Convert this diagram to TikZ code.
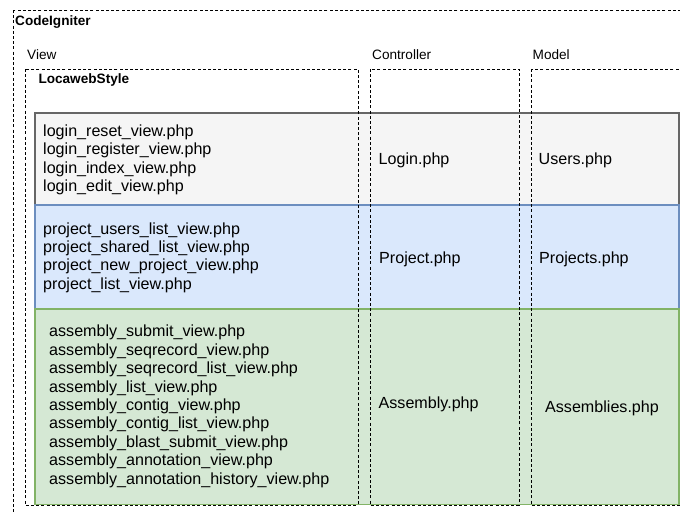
\documentclass[tikz,border=0pt]{standalone}
\usepackage{fontspec}
\setmainfont{Liberation Sans}
\definecolor{greyfill}{HTML}{F5F5F5}
\definecolor{greyline}{HTML}{666666}
\definecolor{bluefill}{HTML}{DAE8FC}
\definecolor{blueline}{HTML}{6C8EBF}
\definecolor{greenfill}{HTML}{D5E8D4}
\definecolor{greenline}{HTML}{82B366}
\tikzset{
  frame/.style={draw=black, line width=0.9pt, dash pattern=on 3pt off 2.2pt},
  band/.style={line width=1.4pt},
  lbl/.style={inner sep=0pt, anchor=base west, font=\fontsize{13.6}{16}\selectfont},
  blbl/.style={lbl, font=\fontsize{13.6}{16}\selectfont\bfseries},
  item/.style={inner sep=0pt, anchor=base west, font=\fontsize{16.1}{18.4}\selectfont},
}
\begin{document}
\begin{tikzpicture}[x=1pt, y=-1pt]
  \useasboundingbox (0,0) rectangle (680,512);
  \fill[white] (0,0) rectangle (680,512);
  \clip (0,0) rectangle (680,512);

  % coloured bands, one per controller/model pair
  \draw[band, draw=greyline, fill=greyfill]   (35,113) rectangle (679,205);
  \draw[band, draw=blueline, fill=bluefill]   (35,205) rectangle (679,309);
  \draw[band, draw=greenline, fill=greenfill] (35,309) rectangle (679,504.5);

  % dashed containers
  \draw[frame] (13,10) rectangle (720,560);
  \draw[frame] (25,69) rectangle (358,505);
  \draw[frame] (370,69) rectangle (519,505);
  \draw[frame] (531,69) rectangle (720,505);

  % container titles
  \node[blbl] (ci)   at (15,25)    {CodeIgniter};
  \node[lbl]  (view) at (27,59.3)  {View};
  \node[lbl]  (ctrl) at (372,59.3) {Controller};
  \node[lbl]  (mdl)  at (532.5,59.3) {Model};
  \node[blbl] (lws)  at (38.3,83.3) {LocawebStyle};

  % login views
  \foreach \t [count=\i] in {login\_reset\_view.php, login\_register\_view.php,
      login\_index\_view.php, login\_edit\_view.php}
    \node[item] (lv\i) at (43,136+18.5*\i-18.5) {\t};
  % project views
  \foreach \t [count=\i] in {project\_users\_list\_view.php, project\_shared\_list\_view.php,
      project\_new\_project\_view.php, project\_list\_view.php}
    \node[item] (pv\i) at (43,234+18.4*\i-18.4) {\t};
  % assembly views
  \foreach \t [count=\i] in {assembly\_submit\_view.php, assembly\_seqrecord\_view.php,
      assembly\_seqrecord\_list\_view.php, assembly\_list\_view.php,
      assembly\_contig\_view.php, assembly\_contig\_list\_view.php,
      assembly\_blast\_submit\_view.php, assembly\_annotation\_view.php,
      assembly\_annotation\_history\_view.php}
    \node[item] (av\i) at (49,336.7+18.45*\i-18.45) {\t};

  % controllers
  \node[item] (lc) at (378.5,164.5) {Login.php};
  \node[item] (pc) at (379,263.3)   {Project.php};
  \node[item] (ac) at (378.5,408.5) {Assembly.php};

  % models
  \node[item] (um) at (538.5,164.5) {Users.php};
  \node[item] (pm) at (539,263.3)   {Projects.php};
  \node[item] (am) at (545,412.7)   {Assemblies.php};
\end{tikzpicture}
\end{document}
